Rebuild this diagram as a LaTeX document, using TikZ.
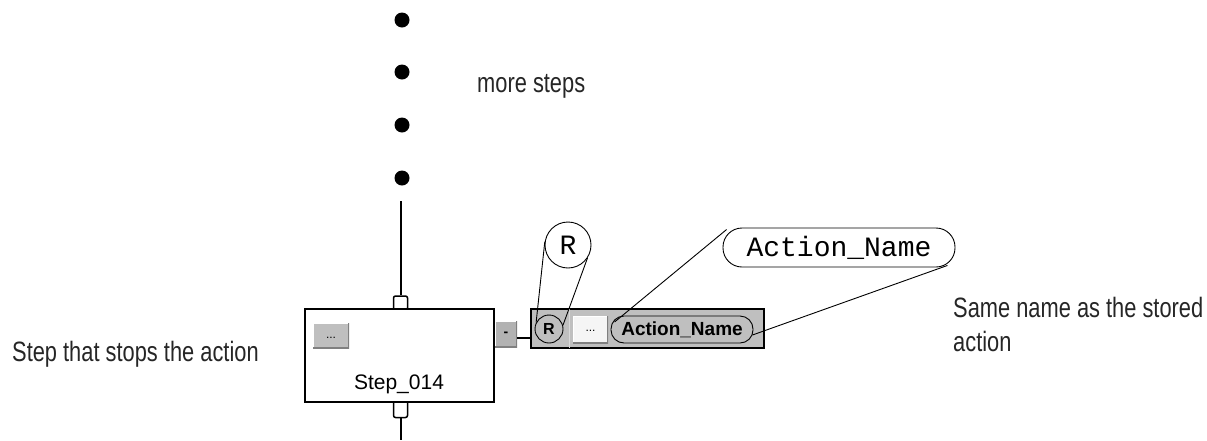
\documentclass[tikz,border=0pt]{standalone}
\usepackage{fontspec}
\setmainfont{Liberation Sans}
\newfontfamily\condfont[FakeStretch=0.78]{Liberation Sans}
\newfontfamily\monofont{Liberation Mono}
\usetikzlibrary{calc}
\begin{document}
\begin{tikzpicture}[x=1pt,y=-1pt,
  conn/.style={line width=2pt},
  callout/.style={line width=0.9pt},
  note/.style={font=\condfont\fontsize{28}{34}\selectfont, inner sep=0pt, text=black!85},
  dotnode/.style={circle, fill=black, minimum size=15pt, inner sep=0pt},
  port/.style={draw, line width=1.5pt, fill=white, inner sep=0pt, rounded corners=2pt},
  stepbox/.style={draw, line width=1.5pt, fill=white, inner sep=0pt},
  btn/.style={fill=#1, inner sep=0pt,
    path picture={
      \draw[white, line width=2pt] (path picture bounding box.south west) -- (path picture bounding box.north west) -- (path picture bounding box.north east);
      \draw[black!50, line width=3pt] (path picture bounding box.north east) -- (path picture bounding box.south east) -- (path picture bounding box.south west);
    }},
  pill/.style={draw, line width=0.9pt, inner sep=0pt},
]
\useasboundingbox[fill=white] (0,0) rectangle (1207,440);

% dots
\node[dotnode] (d1) at (402,20) {};
\node[dotnode] (d2) at (402,72) {};
\node[dotnode] (d3) at (402,125) {};
\node[dotnode] (d4) at (402,178) {};
\node[note, anchor=base west] (ms) at (477,92) {more steps};

% step
\node[port, minimum width=14pt, minimum height=14pt] (top) at (400.5,303) {};
\node[port, minimum width=14pt, minimum height=17pt] (bot) at (400.5,409) {};
\node[stepbox, minimum width=189pt, minimum height=93pt] (step) at (399.5,355.5) {};
\coordinate (linestart) at (400.5,201);
\coordinate (lineend) at (400.5,440);
\draw[conn] (linestart) -- (top.north);
\draw[conn] (bot.south) -- (lineend);
\node[btn=black!25, minimum width=36pt, minimum height=25pt, font=\fontsize{12}{12}\selectfont] (sbtn) at (331,335.5) {\raisebox{-5pt}{...}};
\node[anchor=base, inner sep=0pt, font=\fontsize{21}{21}\selectfont] (sname) at (399,389) {Step\_014};

% tab and action box
\node[btn=black!30, minimum width=22pt, minimum height=26pt, font=\bfseries\fontsize{14}{14}\selectfont] (tab) at (506,334) {\raisebox{-3pt}{-}\hspace{3pt}};
\node[draw, line width=1.5pt, fill=black!25, minimum width=233pt, minimum height=39pt, inner sep=0pt] (abox) at (647.5,328.5) {};
\draw[line width=1.5pt] ($(tab.east)+(0,4)$) -- ($(abox.west)+(0,9.5)$);
\draw[white!85!black, line width=1.2pt] ($(abox.north west)+(39,1)$) -- ($(abox.south west)+(39,-1)$);
\node[circle, draw, line width=0.9pt, minimum size=28pt, inner sep=0pt, font=\bfseries\fontsize{16}{16}\selectfont] (sr) at (549,329) {R};
\node[btn=black!4, minimum width=35pt, minimum height=27pt, font=\fontsize{12}{12}\selectfont] (abtn) at (590.5,329.5) {\raisebox{-4pt}{...}};
\node[pill, rounded corners=13pt, minimum width=142pt, minimum height=27pt, font=\bfseries\fontsize{19}{19}\selectfont] (sn) at (682,329.5) {Action\_Name};

% callouts
\node[circle, draw, fill=white, line width=0.9pt, minimum size=46pt, inner sep=0pt, font=\monofont\fontsize{28}{28}\selectfont] (br) at (568,245) {R};
\node[pill, fill=white, rounded corners=19pt, minimum width=232pt, minimum height=39pt, font=\monofont\fontsize{28}{28}\selectfont] (bn) at (839,247.5) {Action\_Name};
\draw[callout] (br.172) -- (sr.153);
\draw[callout] (br.-34) -- (sr.15);
\draw[callout] ($(bn.north west)+(4,2)$) -- ($(sn.west)+(4,-7.5)$);
\draw[callout] ($(bn.south east)+(-8,-2)$) -- ($(sn.east)+(-1,5.5)$);

% notes
\node[note, anchor=base west] (stopnote) at (12,361) {Step that stops the action};
\node[note, anchor=base west, align=left] (samenote) at (953,351) {Same name as the stored\\action};
\end{tikzpicture}
\end{document}
